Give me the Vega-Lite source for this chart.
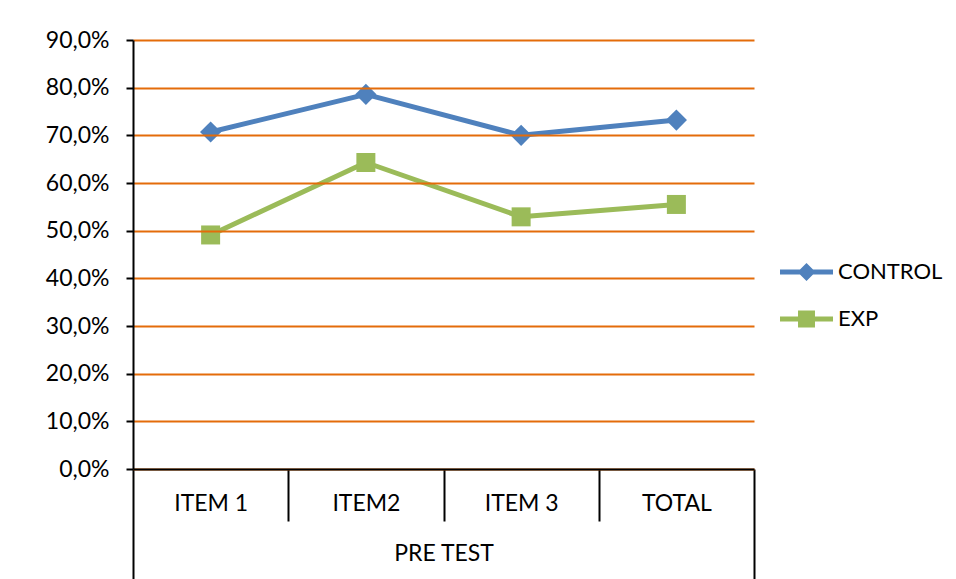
{
  "$schema": "https://vega.github.io/schema/vega-lite/v6.json",
  "width": 621,
  "height": 429,
  "autosize": {"type": "none"},
  "padding": {"left": 133, "top": 40, "right": 202, "bottom": 110},
  "background": "white",
  "config": {
    "font": "Lato",
    "view": {"stroke": null},
    "locale": {"number": {"decimal": ",", "thousands": ".", "grouping": [3], "currency": ["", " €"]}},
    "axis": {"labelFont": "Lato", "labelFontSize": 23, "labelColor": "#000000", "titleFont": "Lato", "titleFontSize": 23, "titleColor": "#000000", "titleFontWeight": "normal"}
  },
  "data": {
    "values": [
      {"item": "ITEM 1", "group": "CONTROL", "value": 0.707},
      {"item": "ITEM2", "group": "CONTROL", "value": 0.786},
      {"item": "ITEM 3", "group": "CONTROL", "value": 0.700},
      {"item": "TOTAL", "group": "CONTROL", "value": 0.732},
      {"item": "ITEM 1", "group": "EXP", "value": 0.491},
      {"item": "ITEM2", "group": "EXP", "value": 0.643},
      {"item": "ITEM 3", "group": "EXP", "value": 0.529},
      {"item": "TOTAL", "group": "EXP", "value": 0.555}
    ]
  },
  "resolve": {"scale": {"x": "independent"}, "axis": {"x": "independent"}},
  "layer": [
    {
      "encoding": {
        "x": {"field": "item", "type": "nominal", "sort": null,
          "scale": {"domain": ["ITEM 1", "ITEM2", "ITEM 3", "TOTAL"], "paddingInner": 0, "paddingOuter": 0},
          "axis": {"orient": "bottom", "title": null, "labelAngle": 0, "ticks": false, "tickSize": 0, "labelPadding": 34, "labelBaseline": "middle", "domain": true, "domainColor": "#000000", "domainWidth": 2, "grid": false, "zindex": 2}},
        "y": {"field": "value", "type": "quantitative",
          "scale": {"domain": [0, 0.9], "nice": false},
          "axis": {"title": null, "values": [0, 0.1, 0.2, 0.3, 0.4, 0.5, 0.6, 0.7, 0.8, 0.9], "format": ".1%", "domain": true, "domainColor": "#000000", "domainWidth": 2, "ticks": true, "tickColor": "#000000", "tickWidth": 2, "tickSize": 7, "labelPadding": 17, "grid": true, "gridColor": "#E46C0A", "gridWidth": 2, "gridOpacity": 1, "zindex": 1}},
        "color": {"field": "group", "type": "nominal",
          "scale": {"domain": ["CONTROL", "EXP"], "range": ["#4F81BD", "#9BBB59"]},
          "legend": {"title": null, "orient": "none", "legendX": 647, "legendY": 205.5, "padding": 0,
            "symbolSize": 2809, "rowPadding": 9, "labelOffset": 5, "labelFont": "Lato", "labelFontSize": 22, "labelColor": "#000000", "labelBaseline": "middle",
            "encode": {"symbols": {"update": {
              "shape": {"signal": "datum.value === 'CONTROL' ? 'M-1,-0.094H-0.246L0,-0.34L0.246,-0.094H1V0.094H0.246L0,0.34L-0.246,0.094H-1Z' : 'M-1,-0.094H-0.32V-0.32H0.32V-0.094H1V0.094H0.32V0.32H-0.32V0.094H-1Z'"},
              "fill": {"scale": "color", "field": "value"},
              "fillOpacity": {"value": 1},
              "strokeWidth": {"value": 0},
              "opacity": {"value": 1}
            }}}}}
      },
      "layer": [
        {"mark": {"type": "line", "strokeWidth": 5, "strokeJoin": "round"}},
        {"transform": [{"filter": "datum.group === 'CONTROL'"}],
          "mark": {"type": "point", "filled": true, "opacity": 1, "shape": "diamond", "size": 450}},
        {"transform": [{"filter": "datum.group === 'EXP'"}],
          "mark": {"type": "point", "filled": true, "opacity": 1, "shape": "square", "size": 361}}
      ]
    },
    {
      "mark": {"type": "point", "opacity": 0},
      "encoding": {
        "x": {"datum": 0, "type": "quantitative",
          "scale": {"domain": [0, 4], "nice": false, "zero": false},
          "axis": {"orient": "bottom", "title": null, "labels": false, "domain": false, "grid": false, "ticks": true, "values": [1, 2, 3], "tickSize": 52, "tickWidth": 2, "tickColor": "#000000"}}
      }
    },
    {
      "mark": {"type": "point", "opacity": 0},
      "encoding": {
        "x": {"datum": 0, "type": "quantitative",
          "scale": {"domain": [0, 1], "nice": false, "zero": false},
          "axis": {"orient": "bottom", "title": "PRE TEST", "titleY": 84, "titleBaseline": "middle", "titleFontWeight": "normal", "labels": false, "domain": false, "grid": false, "ticks": true, "values": [0, 1], "tickSize": 110, "tickWidth": 2, "tickColor": "#000000"}}
      }
    }
  ]
}
